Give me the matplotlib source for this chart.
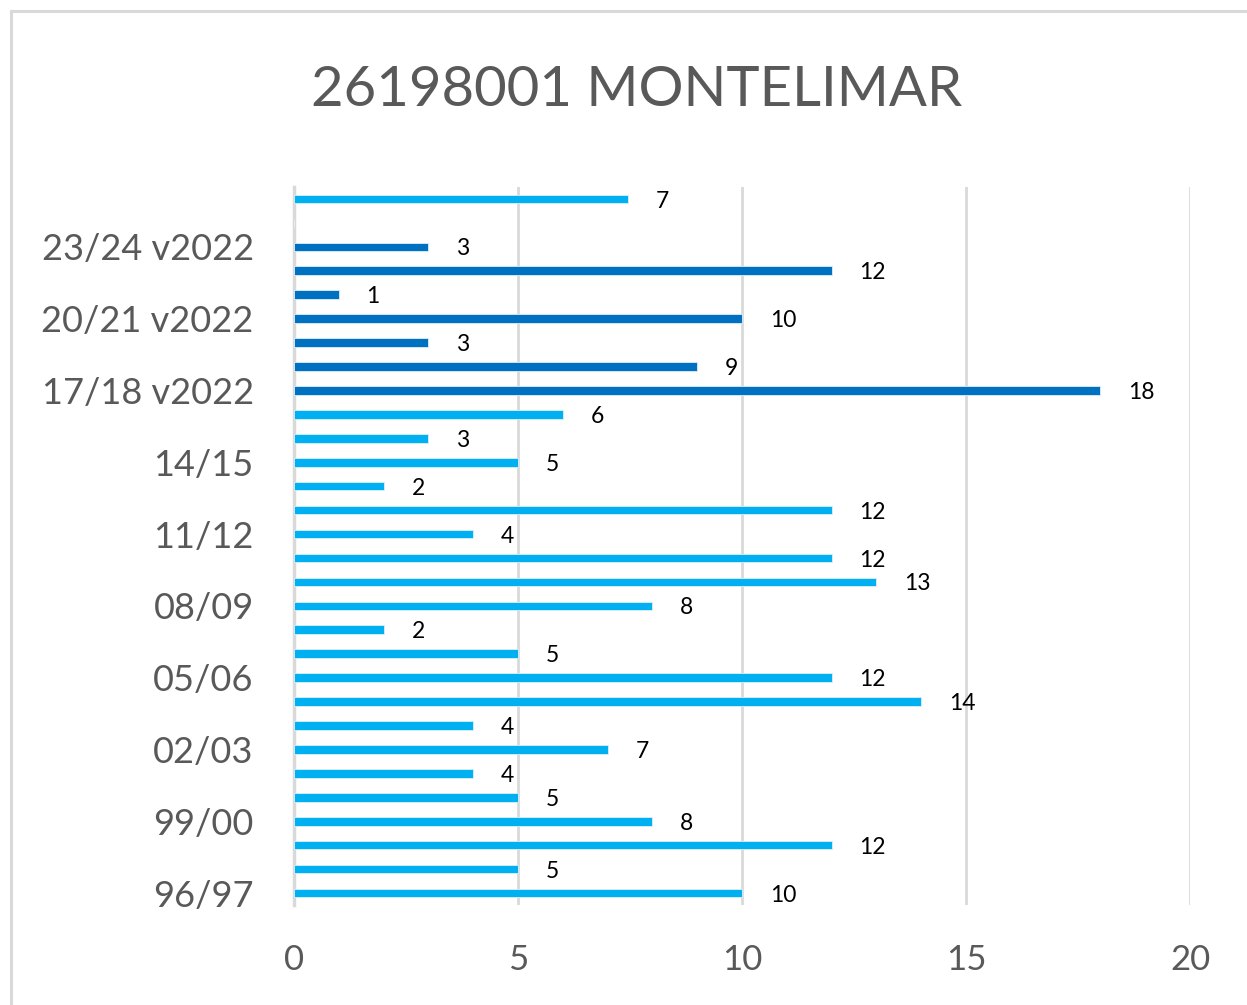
import matplotlib
matplotlib.use("Agg")
import matplotlib.pyplot as plt
from matplotlib.patches import Rectangle
import math

seasons = ["96/97", "97/98", "98/99", "99/00", "00/01", "01/02", "02/03", "03/04",
           "04/05", "05/06", "06/07", "07/08", "08/09", "09/10", "10/11", "11/12",
           "12/13", "13/14", "14/15", "15/16", "16/17", "17/18 v2022", "18/19 v2022",
           "19/20 v2022", "20/21 v2022", "21/22 v2022", "22/23 v2022", "23/24 v2022",
           "24/25", "25/26"]
values = [10, 5, 12, 8, 5, 4, 7, 4, 14, 12, 5, 2, 8, 13, 12, 4, 12, 2, 5, 3, 6,
          18, 9, 3, 10, 1, 12, 3, float("nan"), 7.45]
version_2022 = [False] * 21 + [True] * 7 + [False, False]
shown_labels = [0, 3, 6, 9, 12, 15, 18, 21, 24, 27]
x_ticks = [0, 5, 10, 15, 20]

LIGHT = "#00B0F0"
DARK = "#0070C0"
GRAY = "#595959"
GRID = "#D9D9D9"

plt.rcParams['font.family'] = ['Lato', 'DejaVu Sans']

W, H = 1247, 1005
fig = plt.figure(figsize=(W / 100, H / 100), dpi=100)
ax = fig.add_axes([294 / W, 1 - 905 / H, (1190 - 294) / W, (905 - 187) / H])

ypos = list(range(1, len(values) + 1))
colors = [DARK if v else LIGHT for v in version_2022]
ax.barh(ypos, [0 if math.isnan(v) else v for v in values], height=0.36,
        color=colors, edgecolor="#DDEFFA", linewidth=0.6, zorder=3)

for y, v in zip(ypos, values):
    if math.isnan(v):
        continue
    ax.annotate(f"{v:.0f}", xy=(v, y), xytext=(20, -1.5), textcoords="offset points",
                ha="left", va="center", fontsize=16.5, color="#000000")

ax.set_xlim(0, 20)
ax.set_ylim(0.5, len(values) + 0.5)
ax.set_xticks(x_ticks)
ax.set_xticklabels([str(t) for t in x_ticks])
ax.set_yticks([ypos[i] for i in shown_labels])
ax.set_yticklabels([seasons[i] for i in shown_labels])
ax.tick_params(axis="both", length=0, colors=GRAY, labelsize=25)
ax.tick_params(axis="y", pad=29, labelsize=26)
ax.tick_params(axis="x", pad=28)

ax.xaxis.grid(True, color=GRID, linewidth=2, zorder=0)
ax.yaxis.grid(False)
for s in ["top", "right", "bottom"]:
    ax.spines[s].set_visible(False)
ax.spines["left"].set_color(GRID)
ax.spines["left"].set_linewidth(2.5)
ax.set_axisbelow(True)

fig.text(637 / W, 1 - 90 / H, "26198001 MONTELIMAR", ha="center", va="center",
         fontsize=40.5, color=GRAY)

fig.patches.append(Rectangle((11 / W, -0.02), 1.1, (H - 11) / H + 0.02,
                             transform=fig.transFigure, fill=False,
                             edgecolor=GRID, linewidth=2.2))

fig.savefig("out.png", dpi=100)
